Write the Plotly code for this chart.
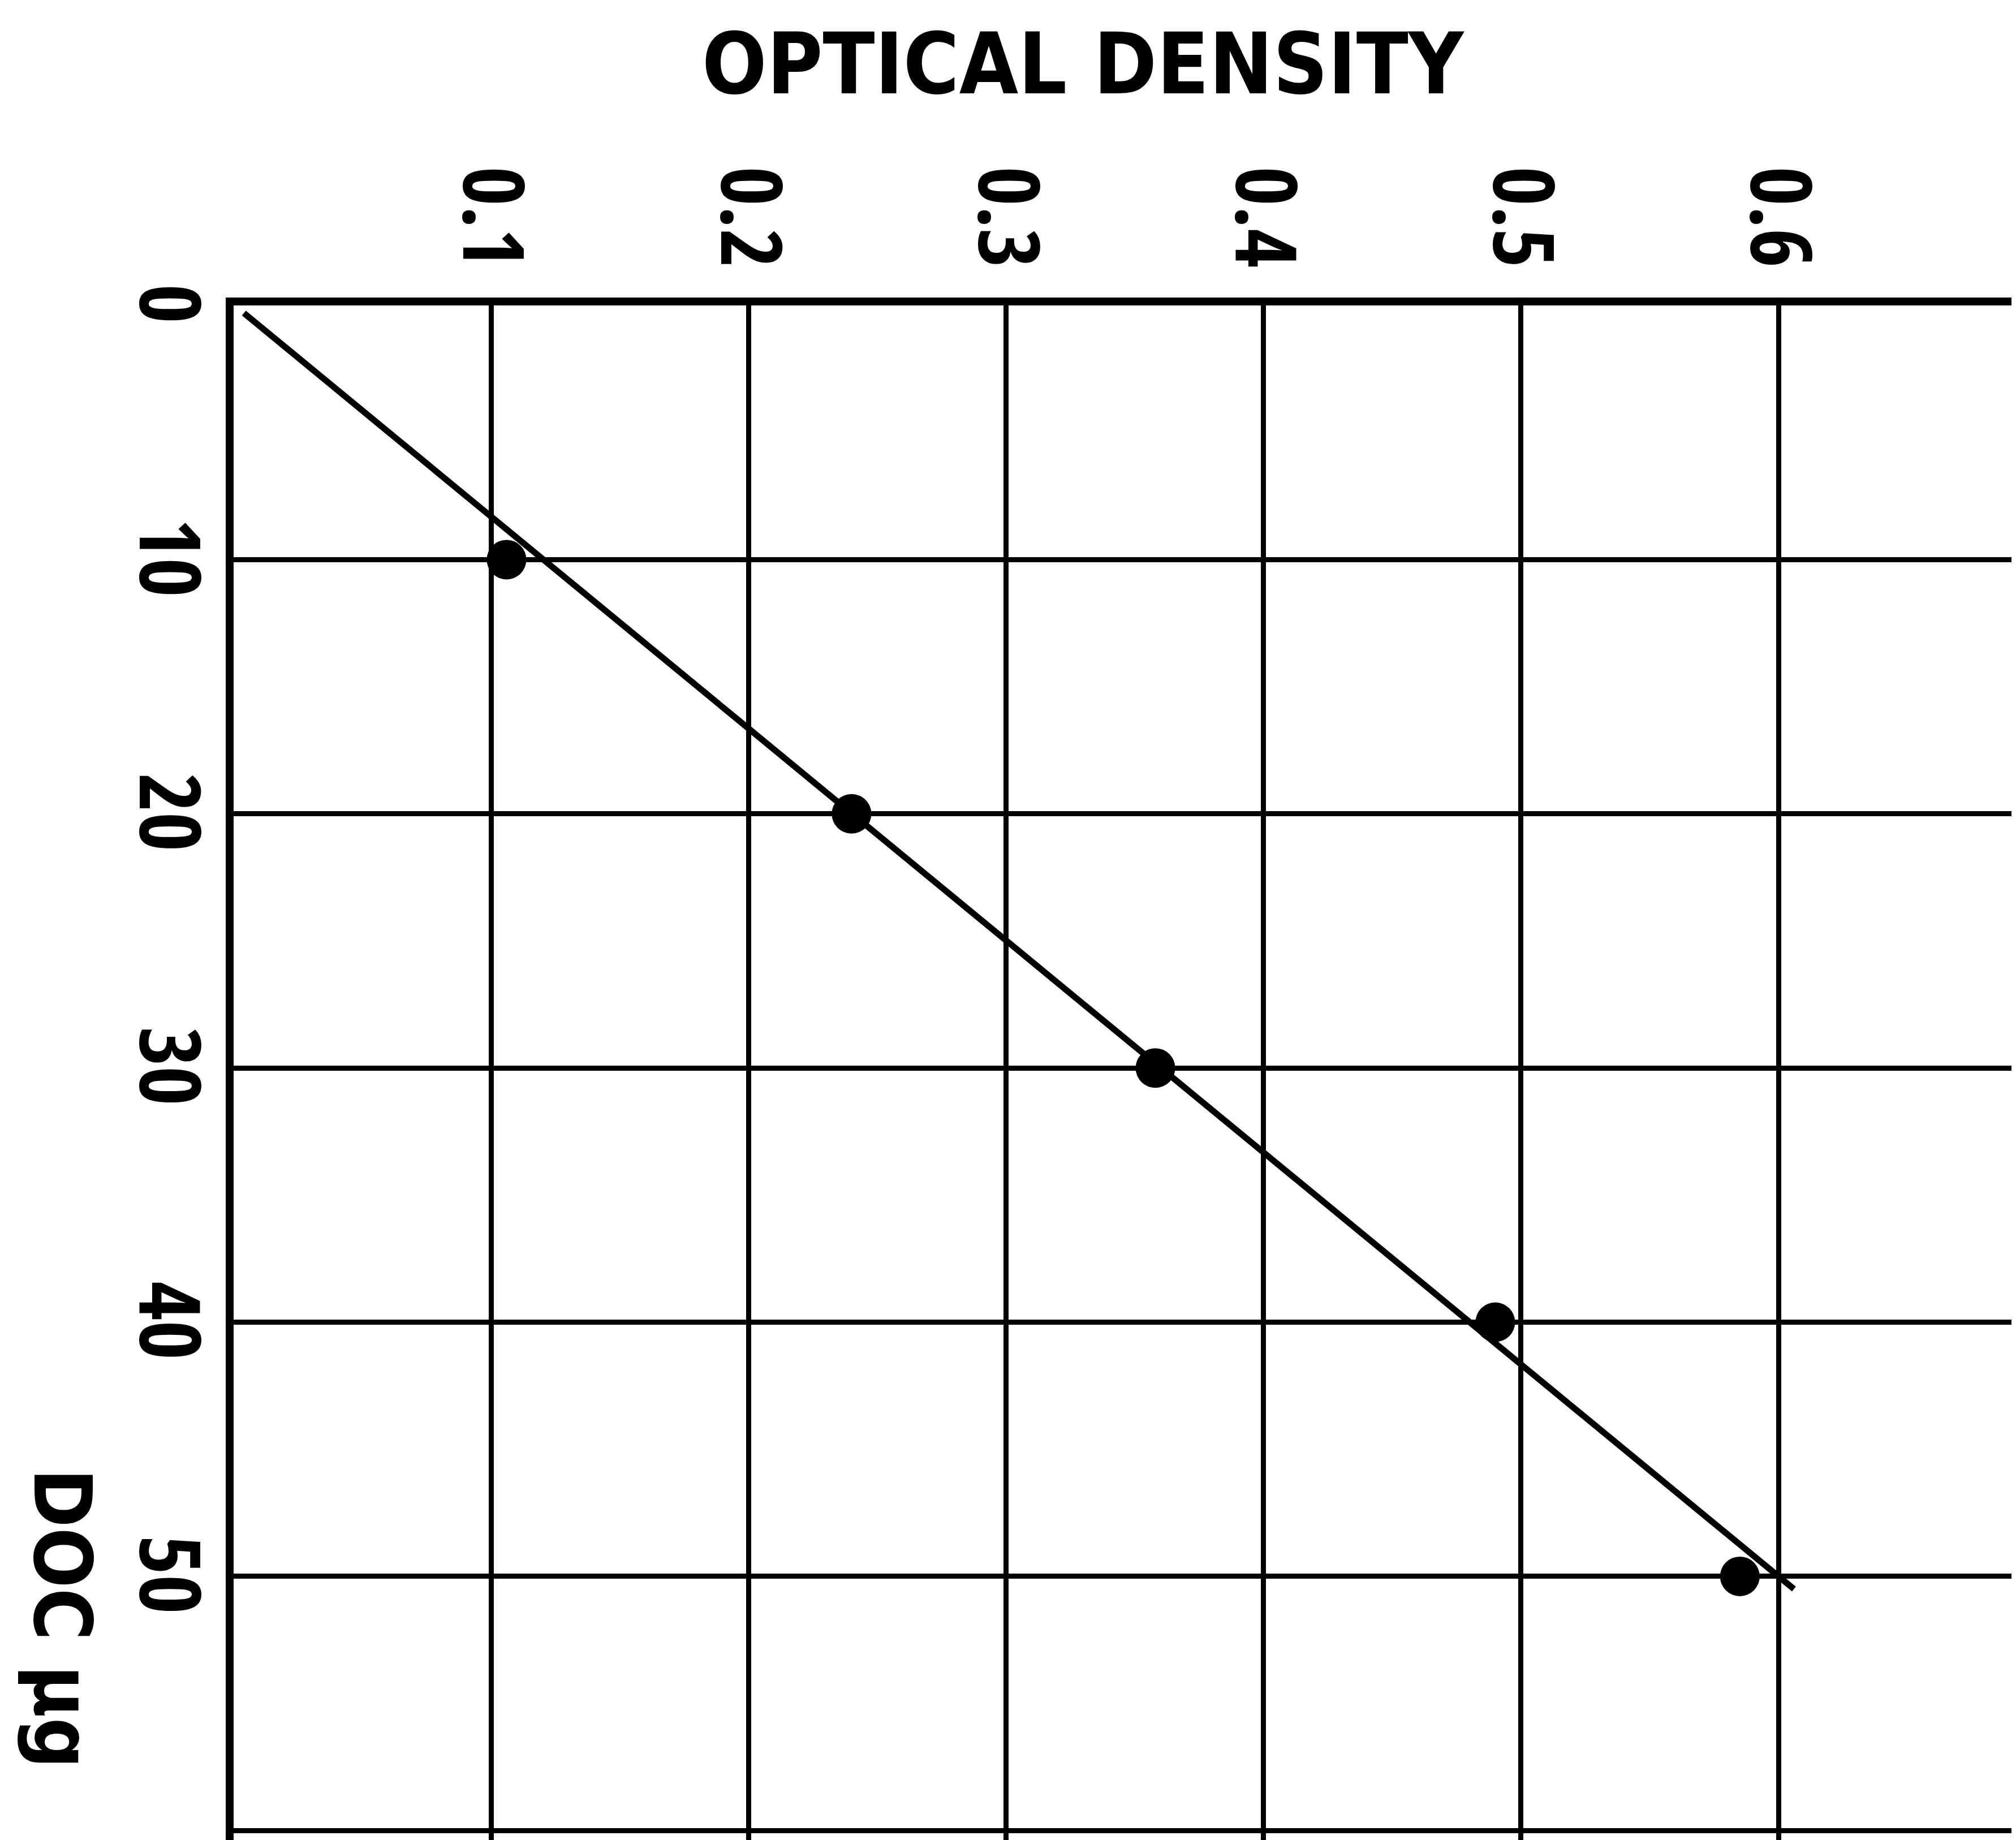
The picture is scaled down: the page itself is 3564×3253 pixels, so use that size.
import plotly.graph_objects as go

# Data
DOC_UG = [10, 20, 30, 40, 50]                    # DOC, µg
OPTICAL_DENSITY = [0.106, 0.240, 0.358, 0.490, 0.585]

# Fitted straight line (end points)
FIT_OD = [0.004, 0.606]
FIT_DOC = [0.3, 50.5]

X_TICKS = [0, 0.1, 0.2, 0.3, 0.4, 0.5, 0.6]
X_TICK_LABELS = ["", "0.1", "0.2", "0.3", "0.4", "0.5", "0.6"]
Y_TICKS = [0, 10, 20, 30, 40, 50, 60]
Y_TICK_LABELS = ["0", "10", "20", "30", "40", "50", ""]

TITLE = "OPTICAL DENSITY"
Y_TITLE = "DOC µg"

TICK_FONT = "Open Sans Condensed, Roboto Condensed, DejaVu Sans Condensed, sans-serif"
LABEL_FONT = "DejaVu Sans Condensed, DejaVu Sans, sans-serif"
NBSP = "\u00a0"  # leading pad so rotated y labels sit centred on their grid line

fig = go.Figure()
fig.add_trace(go.Scatter(x=FIT_OD, y=FIT_DOC, mode="lines",
                         line=dict(color="black", width=11), hoverinfo="skip"))
fig.add_trace(go.Scatter(x=OPTICAL_DENSITY, y=DOC_UG, mode="markers",
                         marker=dict(color="black", size=70)))

axis_common = dict(
    showgrid=True, gridcolor="black", gridwidth=9,
    showline=True, linecolor="black", linewidth=14,
    zeroline=False, ticks="", tickangle=90,
    tickfont=dict(family=TICK_FONT, size=150, color="black", weight="bold"),
    automargin=False, fixedrange=True,
)

fig.update_xaxes(side="top", range=[0, 0.694], tickmode="array",
                 tickvals=X_TICKS, ticktext=X_TICK_LABELS,
                 ticklabelstandoff=0, **axis_common)
fig.update_yaxes(range=[60.55, 0], tickmode="array",
                 tickvals=Y_TICKS,
                 ticktext=[(NBSP + t) if t else t for t in Y_TICK_LABELS],
                 ticklabelstandoff=-28, **axis_common)

fig.add_annotation(text=TITLE, xref="paper", yref="paper", x=0.4755, y=1,
                   yanchor="middle", yshift=427, showarrow=False,
                   font=dict(family=LABEL_FONT, size=150, color="black", weight="bold"))
fig.add_annotation(text=Y_TITLE, xref="paper", yref="paper", x=0, y=0.147,
                   xanchor="center", yanchor="middle", xshift=-303, textangle=90,
                   showarrow=False,
                   font=dict(family=LABEL_FONT, size=140, color="black", weight="bold"))

fig.update_layout(
    width=3564, height=3253,
    margin=dict(l=405, r=0, t=532, b=0, autoexpand=False),
    paper_bgcolor="white", plot_bgcolor="white",
    showlegend=False,
    font=dict(family=TICK_FONT, color="black"),
)

fig.write_html("out.html")
